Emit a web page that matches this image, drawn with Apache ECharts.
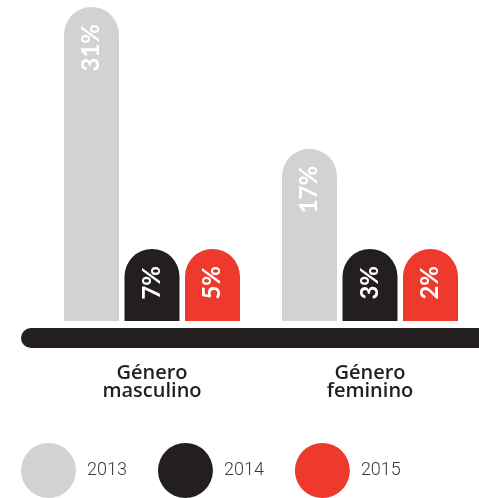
<!DOCTYPE html>
<html>
<head>
<meta charset="utf-8">
<script src="https://cdn.jsdelivr.net/npm/echarts@6/dist/echarts.min.js"></script>
<style>html,body{margin:0;padding:0;background:#fff;}#c{width:479px;height:498px;}</style>
</head>
<body>
<div id="c"></div>
<script>
var categories = ['Género\nmasculino', 'Género\nfeminino'];
var years = ['2013', '2014', '2015'];
var v2013 = [31, 17];
var v2014 = [7, 3];
var v2015 = [5, 2];
var colors = ['#d1d2d4', '#231f20', '#ee3a2c'];

var chart = echarts.init(document.getElementById('c'));
function bar(name, data, color) {
  return {
    name: name, type: 'bar', data: data, xAxisIndex: 0, yAxisIndex: 0,
    barWidth: 55, barGap: '10%', barMinHeight: 72,
    itemStyle: { color: color, borderRadius: [27.5, 27.5, 0, 0] },
    label: {
      show: true, position: 'insideTop', distance: 17, rotate: 90,
      align: 'right', verticalAlign: 'middle',
      formatter: '{c}%', color: '#fff', fontFamily: 'Lato', fontWeight: 'bold', fontSize: 24
    },
    emphasis: { disabled: true }
  };
}
chart.setOption({
  animation: false,
  color: colors,
  grid: [
    { left: 43, right: -1, top: 7, bottom: 177 },
    { left: 31, right: -40, top: 300, bottom: 160 }
  ],
  legend: {
    data: years, left: 21, top: 443, padding: 0, itemWidth: 55, itemHeight: 55, itemGap: 31,
    icon: 'circle', selectedMode: false,
    textStyle: { fontFamily: 'Roboto', fontWeight: 300, fontSize: 18, color: '#3a3a3a', padding: [0, 0, 0, 6] }
  },
  xAxis: [
    {
      type: 'category', data: categories, gridIndex: 0, offset: 17,
      axisLine: { show: false }, axisTick: { show: false },
      axisLabel: { margin: 26, fontFamily: 'Open Sans', fontSize: 20, lineHeight: 18, color: '#231f20', fontWeight: 600 }
    },
    {
      type: 'value', gridIndex: 1, min: 0, max: 1,
      axisLine: { show: true, lineStyle: { color: '#231f20', width: 20, cap: 'round' } },
      axisTick: { show: false }, axisLabel: { show: false }, splitLine: { show: false }
    }
  ],
  yAxis: [
    { type: 'value', gridIndex: 0, min: 0, max: 31, show: false, splitLine: { show: false } },
    { type: 'value', gridIndex: 1, show: false, splitLine: { show: false } }
  ],
  series: [
    bar(years[0], v2013, colors[0]),
    bar(years[1], v2014, colors[1]),
    bar(years[2], v2015, colors[2])
  ]
});
</script>
</body>
</html>
